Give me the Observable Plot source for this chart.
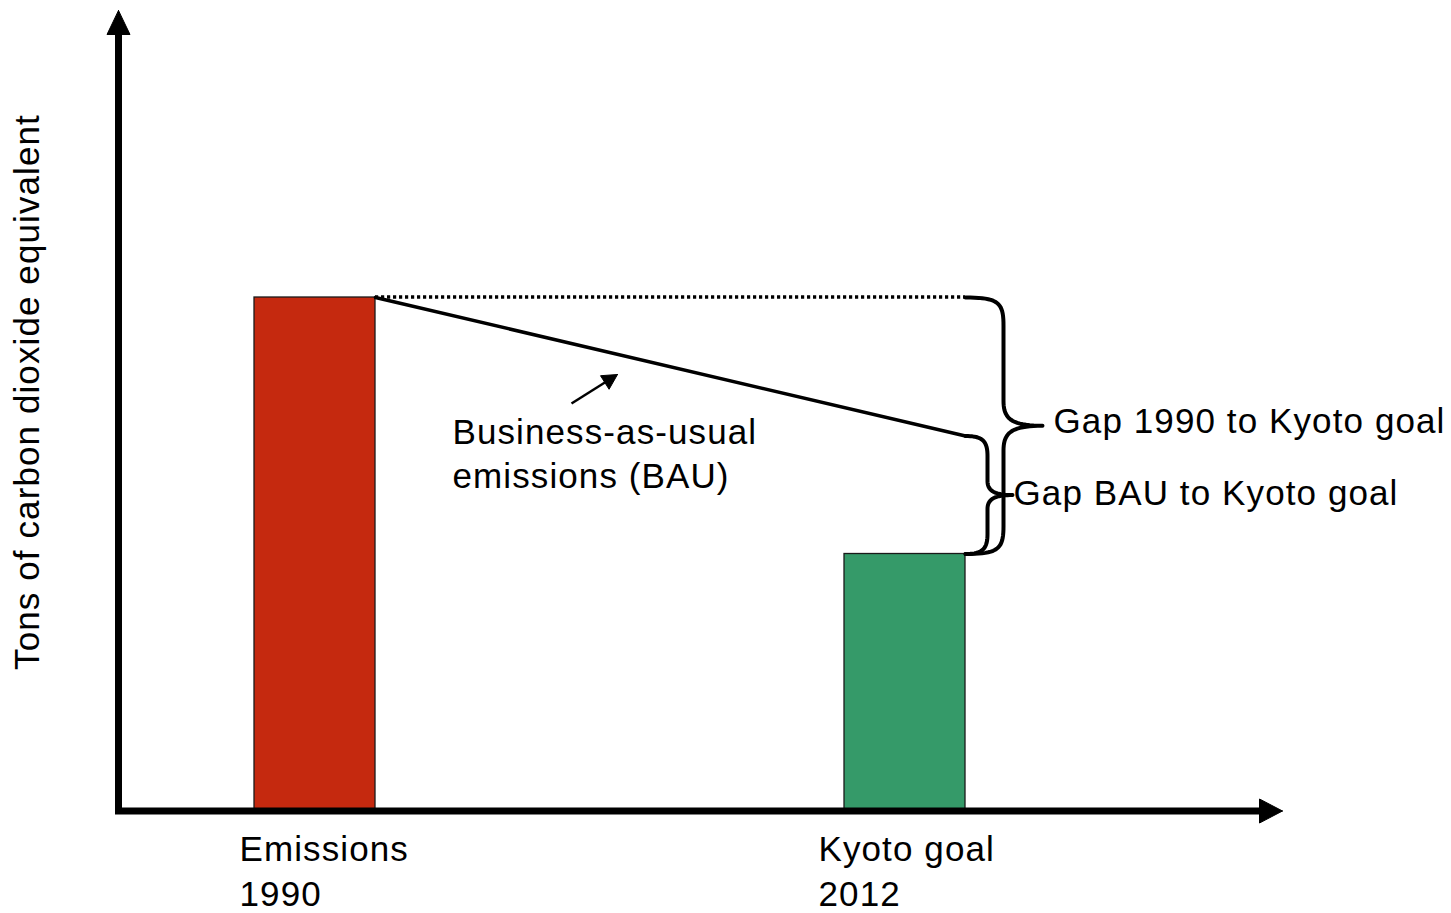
<!DOCTYPE html>
<html>
<head>
<meta charset="utf-8">
<script src="https://cdn.jsdelivr.net/npm/d3@7"></script>
<script src="https://cdn.jsdelivr.net/npm/@observablehq/plot@0.6"></script>
<style>
  body { margin: 0; background: #fff; }
  #chart svg text { letter-spacing: 1.1px; }
</style>
</head>
<body>
<div id="chart"></div>
<script>
// Emissions index: 1990 level = 100
const years = [1990, 2012];
const barLabels = ["Emissions\n1990", "Kyoto goal\n2012"];
const barValues = [100, 50];
const barColors = ["#C5290F", "#359A69"];

// Business-as-usual path, from the 1990 level to 2012
const bauYears = [1990, 2012];
const bauValues = [100, 73];

const yLabel = "Tons of carbon dioxide equivalent";
const bauLabel = "Business-as-usual\nemissions (BAU)";
const gapLabels = ["Gap 1990 to Kyoto goal", "Gap BAU to Kyoto goal"];

// ---- layout ----
const W = 1451, H = 913;
const X_DOMAIN = [1990, 2012], X_RANGE = [314.5, 904.5];
const Y_DOMAIN = [0, 100], Y_RANGE = [810, 297];
const kx = (X_RANGE[1] - X_RANGE[0]) / (X_DOMAIN[1] - X_DOMAIN[0]); // px per year
const ky = (Y_RANGE[0] - Y_RANGE[1]) / (Y_DOMAIN[1] - Y_DOMAIN[0]); // px per unit
const bx = p => p / kx;   // pixel length -> years
const by = p => p / ky;   // pixel length -> value units
const HALF = bx(60.5);    // half bar width
const AXIS_X = X_DOMAIN[0] - bx(196.5);
const X_TIP = X_DOMAIN[0] + bx(967.5);
const Y_TIP = by(800);
const FONT = "'Liberation Sans', Arial, Helvetica, sans-serif";
const FS = 35;

const bars = years.map((year, i) => ({year, value: barValues[i], color: barColors[i], label: barLabels[i]}));
const bau = bauYears.map((year, i) => ({year, value: bauValues[i]}));

// filled arrowhead; (ux, uy) is the screen direction the arrow points to
function head(tx, ty, ux, uy, len, hw) {
  const cx = -ux * len, cy = -uy * len, nx = -uy, ny = ux;
  return [[0, 0], [cx + nx * hw, cy + ny * hw], [cx - nx * hw, cy - ny * hw], [0, 0]]
    .map(([px, py]) => ({x: tx + bx(px), y: ty - by(py)}));
}

function cubic(p0, p1, p2, p3, n = 20) {
  const out = [];
  for (let i = 0; i <= n; i++) {
    const t = i / n, s = 1 - t;
    out.push({
      x: s*s*s*p0[0] + 3*s*s*t*p1[0] + 3*s*t*t*p2[0] + t*t*t*p3[0],
      y: s*s*s*p0[1] + 3*s*s*t*p1[1] + 3*s*t*t*p2[1] + t*t*t*p3[1]
    });
  }
  return out;
}

// curly brace opening to the right, spanning yTop..yBot, starting at x0
function brace(x0, yTop, yBot, spine, tip, corner, bend) {
  const yMid = (yTop + yBot) / 2;
  const xs = x0 + bx(spine), xt = x0 + bx(tip);
  return [
    ...cubic([x0, yTop], [xs - bx(5), yTop], [xs, yTop - by(5)], [xs, yTop - by(corner)]),
    ...cubic([xs, yMid + by(bend)], [xs, yMid + by(bend * 0.3)], [xs + bx(7), yMid], [xt, yMid]),
    ...cubic([xt, yMid], [xs + bx(7), yMid], [xs, yMid - by(bend * 0.3)], [xs, yMid - by(bend)]),
    ...cubic([xs, yBot + by(corner)], [xs, yBot + by(5)], [xs - bx(5), yBot], [x0, yBot])
  ];
}

const xEnd = years[1] + HALF;
const bigBrace = brace(xEnd, barValues[0], barValues[1], 38, 77, 28, 25);
const smallBrace = brace(xEnd, bauValues[1], barValues[1], 22, 47, 20, 14);

// pointer to the BAU line
const ptrTail = {x: X_DOMAIN[0] + bx(256.5), y: by(407)};
const ptrTip = {x: X_DOMAIN[0] + bx(302.5), y: by(436)};
const pdx = (ptrTip.x - ptrTail.x) * kx, pdy = -(ptrTip.y - ptrTail.y) * ky;
const plen = Math.hypot(pdx, pdy);
const ptrHead = head(ptrTip.x, ptrTip.y, pdx / plen, pdy / plen, 15, 8);
const ptrBase = {x: ptrTip.x - bx(pdx / plen * 14), y: ptrTip.y + by(pdy / plen * 14)};

const chart = Plot.plot({
  width: W,
  height: H,
  margin: 0,
  x: {domain: X_DOMAIN, range: X_RANGE, axis: null},
  y: {domain: Y_DOMAIN, range: Y_RANGE, axis: null},
  color: {type: "identity"},
  style: {background: "#fff", fontFamily: FONT, overflow: "visible"},
  marks: [
    // bars
    Plot.rectY(bars, {x1: d => d.year - HALF, x2: d => d.year + HALF, y1: 0, y2: "value",
      fill: "color", stroke: "#1a1a1a", strokeWidth: 1.3}),
    // axes
    Plot.ruleY([0], {x1: AXIS_X - bx(3), x2: X_TIP - bx(22), stroke: "black", strokeWidth: 7, dy: 0.5}),
    Plot.ruleX([AXIS_X], {y1: -by(3.5), y2: Y_TIP - by(23), stroke: "black", strokeWidth: 7}),
    Plot.line(head(AXIS_X, Y_TIP, 0, -1, 24, 11.5), {x: "x", y: "y", fill: "black", stroke: "black", strokeWidth: 1}),
    Plot.line(head(X_TIP, -by(0.5), 1, 0, 23, 12), {x: "x", y: "y", fill: "black", stroke: "black", strokeWidth: 1}),
    // 1990 level carried forward
    Plot.ruleY([barValues[0]], {x1: years[0] + HALF, x2: years[1] + HALF, stroke: "black", strokeWidth: 3.6,
      strokeDasharray: "3.2,2.8", dy: -0.5}),
    // business-as-usual line
    Plot.line(bau, {x: d => d.year + HALF, y: "value", stroke: "black", strokeWidth: 3.5}),
    // braces
    Plot.line(bigBrace, {x: "x", y: "y", stroke: "black", strokeWidth: 4, strokeLinejoin: "round"}),
    Plot.line(smallBrace, {x: "x", y: "y", stroke: "black", strokeWidth: 4, strokeLinejoin: "round"}),
    // pointer arrow
    Plot.link([0], {x1: ptrTail.x, y1: ptrTail.y, x2: ptrBase.x, y2: ptrBase.y, stroke: "black", strokeWidth: 2.5}),
    Plot.line(ptrHead, {x: "x", y: "y", fill: "black", stroke: "black", strokeWidth: 1}),
    // texts
    Plot.text([bars[0]], {x: d => d.year - HALF, y: 0, text: "label", textAnchor: "start", lineAnchor: "top",
      dx: -15, dy: 19, fontSize: FS, lineHeight: 45 / FS, fill: "black", fontFamily: FONT}),
    Plot.text([bars[1]], {x: d => d.year - HALF, y: 0, text: "label", textAnchor: "start", lineAnchor: "top",
      dx: -26, dy: 19, fontSize: FS, lineHeight: 45 / FS, fill: "black", fontFamily: FONT}),
    Plot.text([bauLabel], {x: X_DOMAIN[0] + bx(137.5), y: by(398), text: d => d, textAnchor: "start", lineAnchor: "top",
      fontSize: FS, lineHeight: 44 / FS, fill: "black", fontFamily: FONT}),
    Plot.text([gapLabels[0]], {x: xEnd + bx(77), y: (barValues[0] + barValues[1]) / 2, text: d => d,
      textAnchor: "start", lineAnchor: "middle", dx: 11, dy: -4, fontSize: FS, fill: "black", fontFamily: FONT}),
    Plot.text([gapLabels[1]], {x: xEnd + bx(47), y: (bauValues[1] + barValues[1]) / 2, text: d => d,
      textAnchor: "start", lineAnchor: "middle", dx: 1, dy: -1, fontSize: FS, fill: "black", fontFamily: FONT}),
    Plot.text([yLabel], {x: X_DOMAIN[0] - bx(287), y: by(418.5), text: d => d, rotate: -90,
      textAnchor: "middle", lineAnchor: "middle", fontSize: FS, fill: "black", fontFamily: FONT})
  ]
});

document.getElementById("chart").appendChild(chart);
</script>
</body>
</html>
